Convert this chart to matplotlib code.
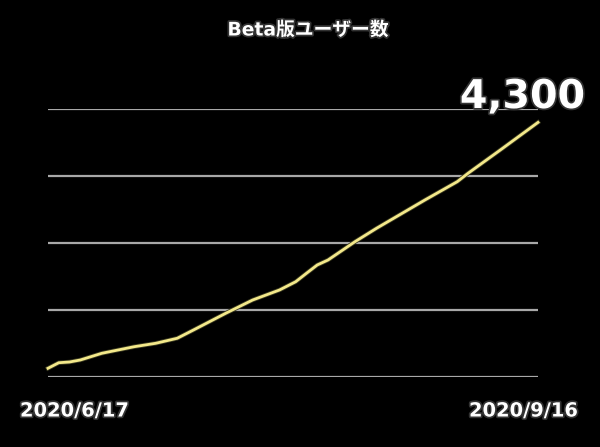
import matplotlib
matplotlib.use("Agg")
import matplotlib.pyplot as plt
import matplotlib.patheffects as pe
import numpy as np
import pandas as pd

plt.rcParams['font.family'] = ['DejaVu Sans', 'Noto Sans CJK JP']

dates = pd.to_datetime([
    "2020-06-17", "2020-06-19", "2020-06-21", "2020-06-23", "2020-06-27",
    "2020-07-03", "2020-07-07", "2020-07-11", "2020-07-14", "2020-07-20",
    "2020-07-25", "2020-07-30", "2020-08-02", "2020-08-04", "2020-08-06",
    "2020-08-08", "2020-08-13", "2020-08-17", "2020-08-26", "2020-09-01",
    "2020-09-03", "2020-09-09", "2020-09-16",
])
users = [630, 713, 724, 754, 854,
         952, 1003, 1078, 1201, 1451,
         1649, 1799, 1922, 2048, 2172,
         2246, 2519, 2719, 3142, 3415,
         3540, 3888, 4300]
grid_values = [500, 1500, 2500, 3500, 4500]
title = "Beta版ユーザー数"
start_label = "2020/6/17"
end_label = "2020/9/16"
last_label = "{:,}".format(users[-1])

fig = plt.figure(figsize=(6, 4.47), dpi=100, facecolor="black")
ax = fig.add_axes([48 / 600, 70 / 447, 490 / 600, 268 / 447])
ax.set_facecolor("black")

ax.hlines(grid_values, dates[0], dates[-1], color="#a8a8a8", lw=1.6, zorder=1)
ax.plot(dates, users, color="#f3e88a", lw=2, zorder=3, clip_on=False,
        path_effects=[pe.Stroke(linewidth=3.2, foreground="#3a3a20"), pe.Normal()])

ax.set_xlim(dates[0], dates[-1])
ax.set_ylim(grid_values[0], grid_values[-1])
ax.axis("off")

outline = [pe.Stroke(linewidth=2.5, foreground="#333333"), pe.Normal()]
fig.text(308 / 600, 1 - 30 / 447, title, color="white", fontsize=13.5, fontweight="bold",
         ha="center", va="center", path_effects=outline)
fig.text(585 / 600, 1 - 97 / 447, last_label, color="white", fontsize=28.5, fontweight="bold",
         ha="right", va="center", path_effects=outline)
fig.text(20 / 600, 1 - 411 / 447, start_label, color="white", fontsize=14, fontweight="bold",
         ha="left", va="center", path_effects=outline)
fig.text(578 / 600, 1 - 411 / 447, end_label, color="white", fontsize=14, fontweight="bold",
         ha="right", va="center", path_effects=outline)

fig.savefig("out.png", dpi=100, facecolor="black")
